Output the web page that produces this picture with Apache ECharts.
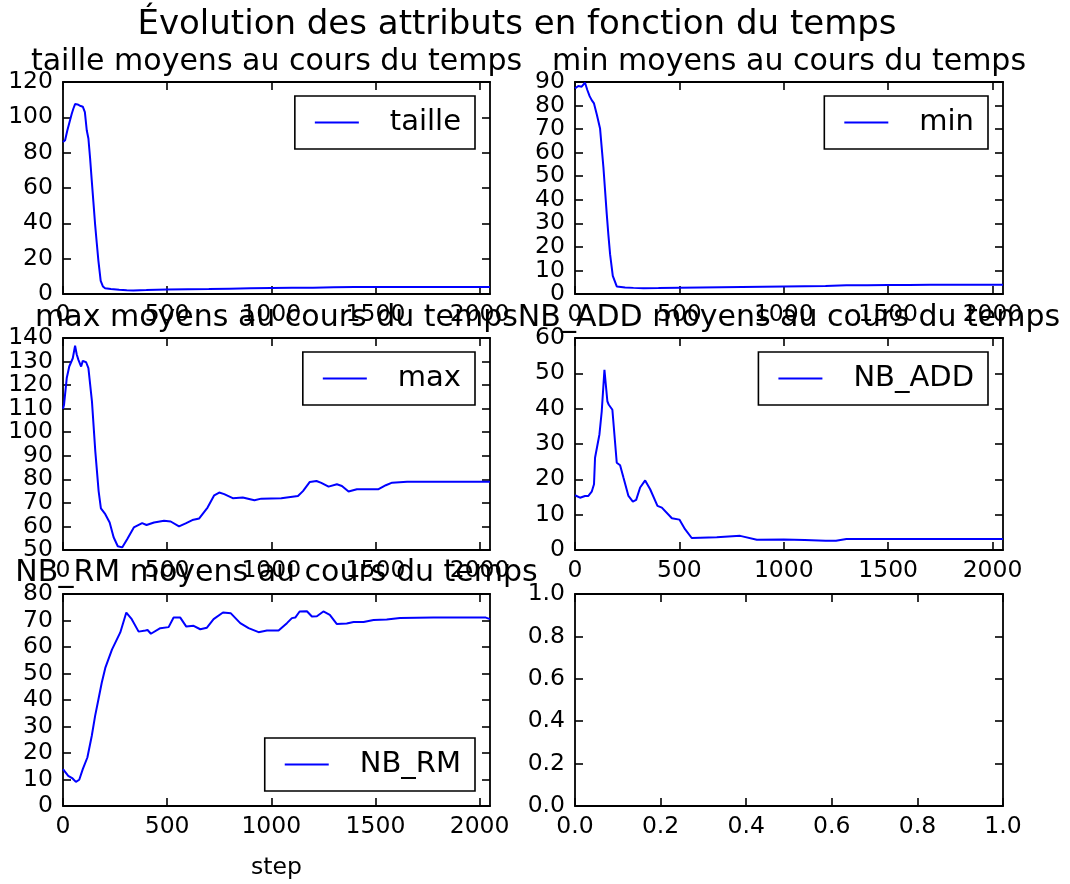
<!DOCTYPE html>
<html><head><meta charset="utf-8">
<script src="https://cdn.jsdelivr.net/npm/echarts@6/dist/echarts.min.js"></script>
<style>html,body{margin:0;padding:0;background:#fff}#c{width:1070px;height:884px}</style>
</head><body><div id="c"></div>
<script>
// ---------- data ----------
const supTitle = 'Évolution des attributs en fonction du temps';
const subTitles = ['taille moyens au cours du temps', 'min moyens au cours du temps',
  'max moyens au cours du temps', 'NB_ADD moyens au cours du temps', 'NB_RM moyens au cours du temps'];
const seriesNames = ['taille', 'min', 'max', 'NB_ADD', 'NB_RM'];
const xAxisName = 'step';
const stepTicks = [0, 500, 1000, 1500, 2000];
const emptyTicks = [0, 0.2, 0.4, 0.6, 0.8, 1.0];
const stepMax = 2050;
const yMins = [0, 0, 50, 0, 0, 0];
const yMaxs = [120, 90, 140, 60, 80, 1];
const yIntervals = [20, 10, 10, 10, 10, 0.2];

const tailleSteps = [0, 10, 21, 30, 42, 50, 58, 70, 85, 95, 105, 114, 122, 130, 138, 146, 154, 162, 170, 181, 192, 202, 230, 270, 306, 338, 400, 500, 600, 700, 800, 900, 1000, 1100, 1200, 1300, 1400, 1500, 1600, 1700, 1800, 1900, 2000, 2050];
const tailleVals = [86, 87, 92.7, 93.7, 102, 105, 107.5, 107.3, 106.4, 106, 103, 92.7, 88, 77, 64.3, 52, 39.6, 29, 18.8, 7.4, 4.2, 3.2, 2.8, 2.4, 2.1, 2.0, 2.2, 2.6, 2.7, 2.8, 3.0, 3.2, 3.4, 3.5, 3.6, 3.8, 3.9, 4.0, 4.0, 3.9, 3.9, 3.9, 3.9, 3.9];

const minSteps = [0, 16, 32, 48, 59, 70, 80, 91, 105, 120, 128, 136, 144, 152, 160, 168, 181, 200, 240, 280, 328, 400, 500, 600, 700, 800, 900, 1000, 1100, 1200, 1300, 1400, 1500, 1600, 1700, 1800, 1900, 2000, 2050];
const minVals = [87.3, 88.3, 88, 89.7, 86.6, 84, 82.3, 80.9, 76, 70.3, 62, 53.9, 44, 34, 25, 16.9, 7.7, 3.2, 2.8, 2.6, 2.4, 2.5, 2.7, 2.8, 2.9, 3.0, 3.1, 3.2, 3.3, 3.4, 3.7, 3.7, 3.8, 3.8, 3.9, 3.9, 3.9, 3.9, 3.9];

const maxSteps = [0, 5, 18, 30, 47, 58, 66, 74, 87, 95, 111, 122, 139, 155, 171, 182, 203, 224, 243, 263, 284, 308, 340, 380, 401, 437, 485, 517, 557, 589, 621, 654, 694, 726, 750, 774, 815, 863, 919, 952, 1048, 1128, 1152, 1185, 1217, 1240, 1275, 1315, 1339, 1371, 1411, 1515, 1550, 1580, 1652, 1800, 2050];
const maxVals = [110, 111.7, 123, 127.9, 131.4, 136.7, 133, 130.7, 127.9, 130.3, 129.7, 127.2, 113.1, 92, 75, 67.7, 65.2, 61.7, 55.4, 51.6, 51.1, 54.6, 59.6, 61.4, 60.6, 61.7, 62.4, 62.1, 60, 61.3, 62.7, 63.4, 68, 73.2, 74.4, 73.7, 72, 72.3, 71.1, 71.8, 72, 72.9, 75, 78.9, 79.3, 78.5, 76.9, 77.9, 77.2, 74.8, 75.8, 75.8, 77.5, 78.6, 79, 79, 79];

const addSteps = [0, 24, 48, 64, 80, 91, 96, 117, 128, 141, 147, 155, 162, 179, 200, 216, 232, 256, 277, 293, 312, 336, 360, 395, 416, 464, 500, 527, 559, 679, 791, 871, 1000, 1100, 1200, 1250, 1300, 1500, 2050];
const addVals = [15.5, 14.8, 15.3, 15.3, 16.5, 18.6, 26.1, 32.7, 39.2, 51, 50.7, 42.1, 41.1, 39.7, 24.7, 24, 20.5, 15.3, 13.7, 14.2, 17.7, 19.7, 17.2, 12.5, 12, 9, 8.6, 5.9, 3.4, 3.6, 4.0, 2.9, 3.0, 2.8, 2.6, 2.6, 3.1, 3.1, 3.1];

const rmSteps = [0, 25, 46, 62, 78, 95, 117, 138, 154, 170, 186, 203, 235, 275, 304, 330, 363, 396, 406, 422, 467, 507, 531, 563, 592, 627, 659, 691, 723, 768, 806, 851, 891, 939, 979, 1035, 1075, 1099, 1115, 1136, 1171, 1195, 1219, 1250, 1281, 1314, 1362, 1395, 1443, 1491, 1554, 1618, 1778, 2030, 2050];
const rmVals = [13.9, 11.4, 10.4, 9.1, 9.9, 13.9, 18.3, 26.4, 33.9, 40.2, 46.5, 52.1, 59, 65.5, 73, 70.5, 65.8, 66.2, 66.4, 65, 67.1, 67.5, 71.1, 71.1, 67.7, 68, 66.7, 67.3, 70.5, 73, 72.7, 69, 67.1, 65.6, 66.2, 66.2, 69, 70.9, 71.1, 73.4, 73.5, 71.5, 71.6, 73.4, 72.1, 68.7, 68.9, 69.4, 69.4, 70.2, 70.4, 70.9, 71.1, 71.1, 70.5];

// ---------- layout / style ----------
const FONT = 'DejaVu Sans';
const grids = [
  {left: 63, top: 82, width: 427, height: 212},
  {left: 575, top: 82, width: 428, height: 212},
  {left: 63, top: 338, width: 427, height: 212},
  {left: 575, top: 338, width: 428, height: 212},
  {left: 63, top: 594, width: 427, height: 212},
  {left: 575, top: 594, width: 428, height: 212}
];
const titleCenters = [[276.5, 47], [789, 47], [276.5, 303], [789, 303], [276.5, 558]];
const legendPos = [
  {right: 595, top: 96}, {right: 82, top: 96},
  {right: 595, top: 352}, {right: 82, top: 352},
  {right: 595, top: 738}
];
const stepsList = [tailleSteps, minSteps, maxSteps, addSteps, rmSteps];
const valsList = [tailleVals, minVals, maxVals, addVals, rmVals];

const lineCol = '#000';
const tickStyle = {show: true, inside: true, length: 8, lineStyle: {color: lineCol, width: 1.6}};
const axisLineStyle = {show: true, onZero: false, lineStyle: {color: lineCol, width: 1.8}};
const labelStyle = {color: '#000', fontFamily: FONT, fontSize: 23.5,
  showMinLabel: true, showMaxLabel: true, hideOverlap: false};

const xAxes = [], yAxes = [];
grids.forEach((g, i) => {
  const empty = i === 5;
  const xmin = 0, xmax = empty ? 1 : stepMax;
  const xt = empty ? emptyTicks : stepTicks;
  const fmtX = v => empty ? v.toFixed(1) : String(v);
  xAxes.push({
    type: 'value', gridIndex: i, position: 'bottom', min: xmin, max: xmax,
    axisLine: axisLineStyle, splitLine: {show: false},
    axisTick: Object.assign({}, tickStyle, {customValues: xt}),
    axisLabel: Object.assign({}, labelStyle, {customValues: xt, margin: 9, formatter: fmtX}),
    name: i === 4 ? xAxisName : '', nameLocation: 'middle', nameGap: 50,
    nameTextStyle: {color: '#000', fontFamily: FONT, fontSize: 23.5}
  });
  xAxes.push({
    type: 'value', gridIndex: i, position: 'top', min: xmin, max: xmax,
    axisLine: axisLineStyle, splitLine: {show: false},
    axisTick: Object.assign({}, tickStyle, {customValues: xt}),
    axisLabel: {show: false}
  });
  // y tick label values, split into two alternating sets so that the library
  // never drops a label because neighbouring labels touch
  const yTickVals = [];
  const n = Math.round((yMaxs[i] - yMins[i]) / yIntervals[i]);
  for (let k = 0; k <= n; k++) yTickVals.push(+(yMins[i] + k * yIntervals[i]).toFixed(6));
  const evenVals = yTickVals.filter((v, k) => k % 2 === 0);
  const oddVals = yTickVals.filter((v, k) => k % 2 === 1);
  const fmtY = v => empty ? v.toFixed(1) : String(Math.round(v));
  const base = {type: 'value', gridIndex: i, min: yMins[i], max: yMaxs[i], interval: yIntervals[i], splitLine: {show: false}};
  yAxes.push(Object.assign({}, base, {
    position: 'left', axisLine: axisLineStyle, axisTick: Object.assign({}, tickStyle, {interval: 0}),
    axisLabel: Object.assign({}, labelStyle, {margin: 10, formatter: fmtY, customValues: evenVals})
  }));
  yAxes.push(Object.assign({}, base, {
    position: 'right', axisLine: axisLineStyle, axisTick: Object.assign({}, tickStyle, {interval: 0}),
    axisLabel: {show: false}
  }));
  yAxes.push(Object.assign({}, base, {
    position: 'left', offset: 0, axisLine: {show: false}, axisTick: {show: false},
    axisLabel: Object.assign({}, labelStyle, {margin: 10, formatter: fmtY, customValues: oddVals})
  }));
});

const titles = [{
  text: supTitle, left: 517, top: 8, textAlign: 'center', padding: 0,
  textStyle: {fontFamily: FONT, fontSize: 34, fontWeight: 'normal', color: '#000'}
}];
subTitles.forEach((t, i) => titles.push({
  text: t, left: titleCenters[i][0], top: titleCenters[i][1], textAlign: 'center', padding: 0,
  textStyle: {fontFamily: FONT, fontSize: 30, fontWeight: 'normal', color: '#000'}
}));

const legends = seriesNames.map((n, i) => Object.assign({
  data: [n], orient: 'horizontal', icon: 'rect', itemWidth: 44, itemHeight: 2,
  backgroundColor: '#fff', borderColor: '#000', borderWidth: 1.6, borderRadius: 0,
  padding: [9, 14, 9, 20],
  textStyle: {fontFamily: FONT, fontSize: 29, color: '#000', lineHeight: 35, padding: [0, 0, 0, 26]}
}, legendPos[i]));

const series = seriesNames.map((n, i) => ({
  name: n, type: 'line', xAxisIndex: 2 * i, yAxisIndex: 3 * i,
  data: stepsList[i].map((s, k) => [s, valsList[i][k]]),
  symbol: 'none', smooth: false, animation: false,
  lineStyle: {color: '#0000ff', width: 2}, itemStyle: {color: '#0000ff'}
}));

const chart = echarts.init(document.getElementById('c'), null, {renderer: 'canvas'});
chart.setOption({
  backgroundColor: '#fff', animation: false,
  title: titles, legend: legends, grid: grids,
  xAxis: xAxes, yAxis: yAxes, series: series
});
</script></body></html>
